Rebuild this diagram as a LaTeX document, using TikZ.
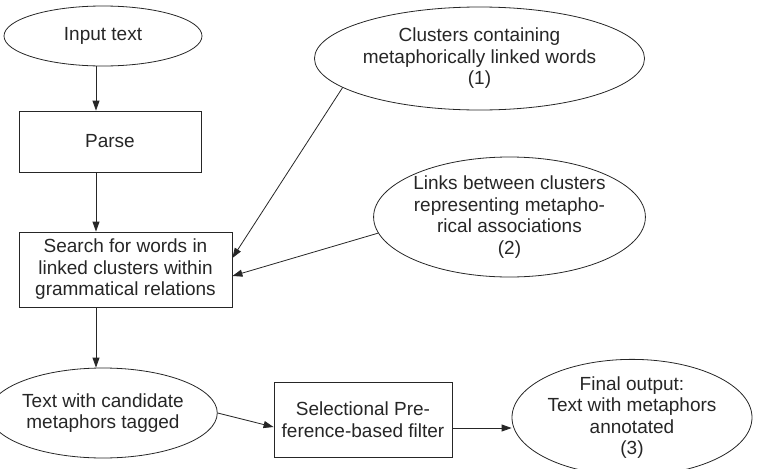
\documentclass[tikz,border=0pt]{standalone}
\usepackage{fontspec}
\setmainfont{Liberation Sans}
\usetikzlibrary{shapes.geometric,arrows.meta}
\begin{document}
\begin{tikzpicture}[x=1pt,y=-1pt,
  every node/.style={font=\fontsize{19}{21.5}\selectfont, align=center, inner sep=0pt, draw=black!85, line width=0.8pt, text=black!85},
  ell/.style={ellipse},
  box/.style={rectangle},
  arr/.style={draw=black!85, line width=0.8pt, -{Triangle[length=10pt,width=7pt]}}]
\useasboundingbox (0,0) rectangle (764,469);
\node[ell, minimum width=198pt, minimum height=60pt] (in) at (103,36) {Input text};
\node[box, minimum width=182pt, minimum height=61pt] (parse) at (110,141.5) {Parse};
\node[box, minimum width=213pt, minimum height=75pt] (search) at (125.5,269.5) {Search for words in\\linked clusters within\\grammatical relations};
\node[ell, minimum width=198pt, minimum height=90pt] (cand) at (103,413) {Text with candidate\\metaphors tagged};
\node[ell, minimum width=287pt, minimum height=103pt] (clus) at (479.5,58.5) {Clusters containing\\metaphorically linked words\\(1)};
\node[ell, minimum width=255pt, minimum height=120pt] (links) at (509.5,217) {Links between clusters\\representing metapho-\\rical associations\\(2)};
\node[box, minimum width=178pt, minimum height=75pt] (sel) at (363,419.5) {Selectional Pre-\\ference-based filter};
\node[ell, minimum width=240pt, minimum height=101pt] (final) at (632,417.5) {Final output:\\Text with metaphors\\annotated\\(3)};

\draw[arr] ([xshift=-14pt]parse.north |- in.south) -- ([xshift=-14pt]parse.north);
\coordinate (p1) at ([xshift=-14pt]parse.south);
\draw[arr] (p1) -- (p1 |- search.north);
\coordinate (p2) at ([xshift=-29.5pt]search.south);
\draw[arr] (p2) -- (p2 |- cand.north);
\draw[arr] (clus.192) -- ([yshift=11.5pt]search.east);
\draw[arr] (links.187) -- ([yshift=-6.5pt]search.east);
\draw[arr] (cand.east) -- ([yshift=-7.5pt]sel.west);
\coordinate (s3) at ([yshift=-8.5pt]sel.east);
\draw[arr] (s3) -- (s3 -| final.west);
\end{tikzpicture}
\end{document}
